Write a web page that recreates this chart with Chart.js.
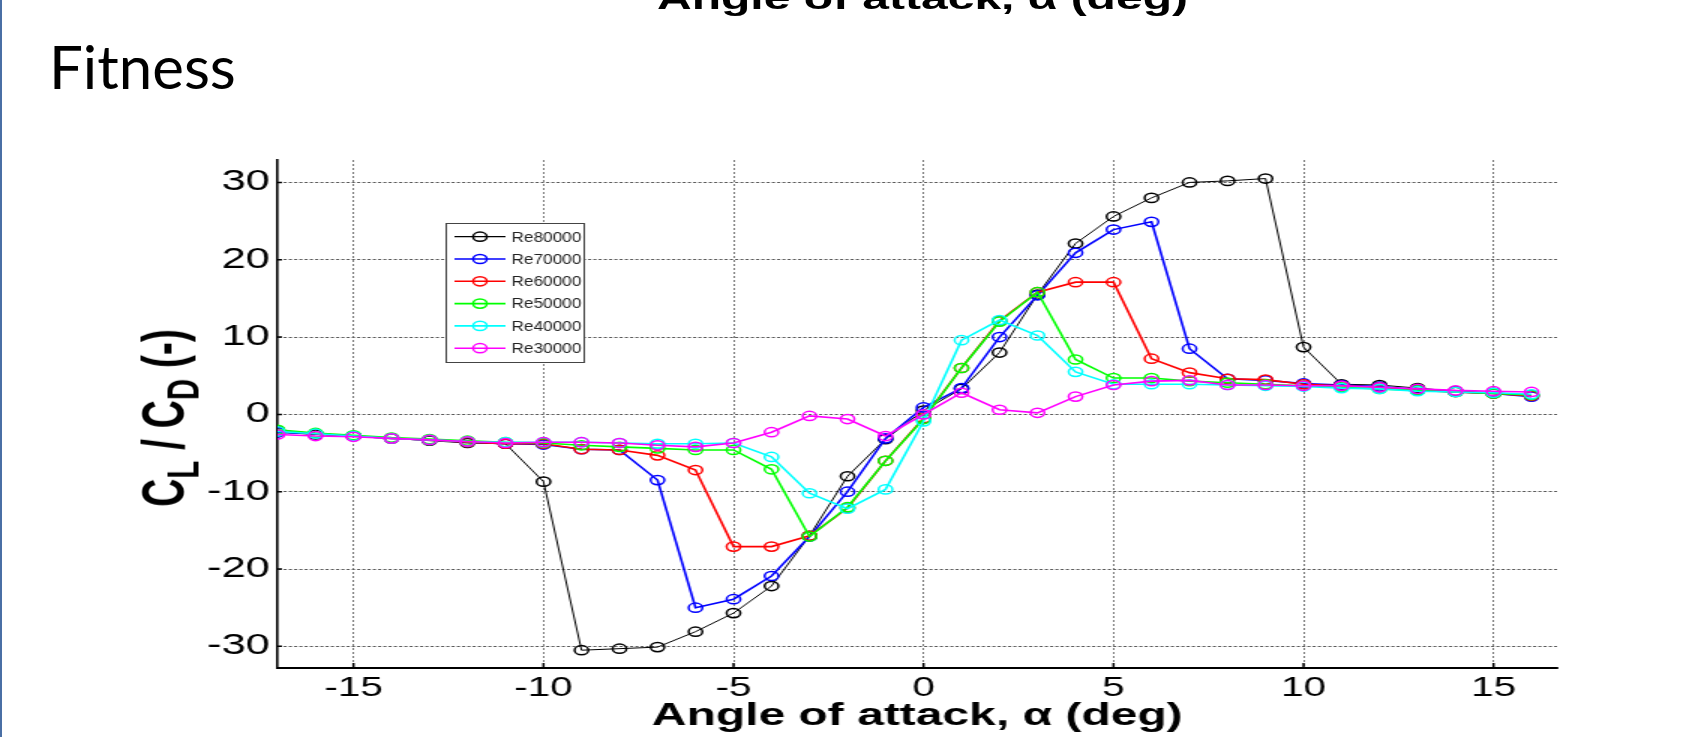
<!DOCTYPE html>
<html>
<head>
<meta charset="utf-8">
<script src="https://cdn.jsdelivr.net/npm/chart.js@4"></script>
<style>
  body { margin: 0; background: #fff; width: 1705px; height: 737px; overflow: hidden; position: relative; }
  #edge { position: absolute; left: 0; top: 0; width: 2px; height: 737px; background: #4a6fa5; }
  #fitness { position: absolute; left: 49px; top: 36px; font: 60px/60px Lato, "Open Sans", sans-serif; color: #000; }
  #wrap { position: absolute; left: 0; top: 0; width: 1137px; height: 737px; transform: scaleX(1.5); transform-origin: 0 0; }
  #prevTitle { position: absolute; left: 615px; top: -18px; transform: translateX(-50%); white-space: nowrap;
               font: bold 32px/32px Arial, "Liberation Sans", sans-serif; color: #000; }
  #ylab { position: absolute; left: 109px; top: 418px; transform: translate(-50%, -50%) rotate(-90deg); white-space: nowrap;
          font: bold 39px Arial, "Liberation Sans", sans-serif; color: #000; }
  #ylab sub { font-size: 0.75em; vertical-align: -0.35em; line-height: 0; }
</style>
</head>
<body>
<div id="edge"></div>
<div id="fitness">Fitness</div>
<div id="wrap">
  <div id="prevTitle">Angle of attack, α (deg)</div>
  <div id="ylab">C<sub>L</sub> / C<sub>D</sub> (-)</div>
  <canvas id="chartCanvas"></canvas>
</div>
<script>
"use strict";

// angle of attack (deg)
const angles = [-17, -16, -15, -14, -13, -12, -11, -10, -9, -8, -7, -6, -5, -4, -3, -2, -1,
                0, 1, 2, 3, 4, 5, 6, 7, 8, 9, 10, 11, 12, 13, 14, 15, 16];

// CL/CD per Reynolds number
const re80000 = [-2.3, -2.6, -2.8, -3.1, -3.4, -3.7, -3.8, -8.7, -30.5, -30.3, -30.1, -28.1, -25.7, -22.2, -15.7, -8.0, -3.2,
                 0.5, 3.3, 8.0, 15.5, 22.1, 25.6, 28.0, 30.0, 30.2, 30.5, 8.7, 3.9, 3.8, 3.4, 3.0, 2.8, 2.5];
const re70000 = [-2.3, -2.5, -2.8, -3.1, -3.3, -3.6, -3.8, -3.9, -4.5, -4.6, -8.5, -25.0, -23.9, -20.9, -15.8, -10.0, -3.1,
                 0.9, 3.4, 10.0, 15.4, 20.9, 23.9, 24.9, 8.5, 4.6, 4.4, 4.0, 3.8, 3.6, 3.2, 2.9, 2.7, 2.3];
const re60000 = [-2.1, -2.5, -2.8, -3.1, -3.3, -3.6, -3.8, -3.8, -4.5, -4.6, -5.3, -7.2, -17.1, -17.1, -15.7, -12.1, -6.0,
                 -0.5, 6.0, 12.1, 15.8, 17.1, 17.1, 7.2, 5.4, 4.6, 4.5, 3.9, 3.7, 3.5, 3.1, 2.9, 2.7, 2.4];
const re50000 = [-2.0, -2.4, -2.7, -3.0, -3.2, -3.4, -3.6, -3.7, -4.0, -4.2, -4.4, -4.6, -4.6, -7.1, -15.8, -12.0, -6.0,
                 -0.6, 6.0, 12.0, 15.8, 7.1, 4.7, 4.7, 4.3, 4.1, 3.9, 3.7, 3.5, 3.3, 3.1, 2.9, 2.7, 2.5];
const re40000 = [-2.2, -2.5, -2.8, -3.1, -3.3, -3.5, -3.6, -3.6, -3.6, -3.7, -3.8, -3.8, -3.7, -5.5, -10.2, -12.2, -9.7,
                 -0.9, 9.6, 12.2, 10.2, 5.5, 3.9, 3.9, 3.9, 3.8, 3.7, 3.6, 3.4, 3.3, 3.0, 2.9, 2.8, 2.6];
const re30000 = [-2.6, -2.8, -2.9, -3.1, -3.3, -3.5, -3.7, -3.6, -3.6, -3.7, -4.0, -4.2, -3.7, -2.3, -0.2, -0.6, -2.8,
                 0.0, 2.8, 0.6, 0.2, 2.3, 3.8, 4.3, 4.4, 3.8, 3.8, 3.7, 3.7, 3.5, 3.3, 3.1, 3.0, 2.9];

const seriesNames = ['Re80000', 'Re70000', 'Re60000', 'Re50000', 'Re40000', 'Re30000'];
const seriesValues = [re80000, re70000, re60000, re50000, re40000, re30000];
const seriesColors = ['#000000', '#0000ff', '#ff0000', '#00ff00', '#00ffff', '#ff00ff'];

const xTicks = [-15, -10, -5, 0, 5, 10, 15];
const yTicks = [-30, -20, -10, 0, 10, 20, 30];

const FONT = 'Arial, "Liberation Sans", sans-serif';

// small inward tick marks, like the matlab axes
const innerTicks = {
    id: 'innerTicks',
    afterDraw(chart) {
        const {ctx, chartArea, scales} = chart;
        ctx.save();
        ctx.strokeStyle = '#000';
        ctx.lineWidth = 1.5;
        ctx.beginPath();
        xTicks.forEach(v => {
            const px = scales.x.getPixelForValue(v);
            ctx.moveTo(px, chartArea.bottom);
            ctx.lineTo(px, chartArea.bottom - 5);
        });
        yTicks.forEach(v => {
            const py = scales.y.getPixelForValue(v);
            ctx.moveTo(chartArea.left, py);
            ctx.lineTo(chartArea.left + 3, py);
        });
        ctx.stroke();
        ctx.restore();
    }
};

// legend box inside the axes
const legendBox = {
    id: 'legendBox',
    afterDraw(chart) {
        const ctx = chart.ctx;
        const left = 297, top = 223, w = 92, h = 139;
        ctx.save();
        ctx.fillStyle = '#fff';
        ctx.fillRect(left, top, w, h);
        ctx.strokeStyle = '#444';
        ctx.lineWidth = 1;
        ctx.strokeRect(left + 0.5, top + 0.5, w, h);
        seriesNames.forEach((name, i) => {
            const y = 236.7 + i * 22.3;
            ctx.strokeStyle = seriesColors[i];
            ctx.lineWidth = i === 0 ? 1.2 : 1.6;
            ctx.beginPath();
            ctx.moveTo(303, y);
            ctx.lineTo(337, y);
            ctx.stroke();
            ctx.lineWidth = 1.5;
            ctx.beginPath();
            ctx.arc(320, y, 4.6, 0, Math.PI * 2);
            ctx.stroke();
            ctx.save();
            ctx.translate(341, y);
            ctx.scale(0.82, 1);
            ctx.fillStyle = '#222';
            ctx.font = '14px ' + FONT;
            ctx.textBaseline = 'middle';
            ctx.fillText(name, 0, 1);
            ctx.restore();
        });
        ctx.restore();
    }
};

const ctx = document.getElementById('chartCanvas');

const datasets = seriesNames.map((name, i) => ({
    label: name,
    data: angles.map((a, j) => ({x: a, y: seriesValues[i][j]})),
    borderColor: seriesColors[i],
    borderWidth: i === 0 ? 1 : 1.6,
    pointStyle: 'circle',
    pointRadius: 4.6,
    pointBorderWidth: 1.5,
    pointBorderColor: seriesColors[i],
    pointBackgroundColor: 'rgba(0,0,0,0)',
    fill: false,
    tension: 0,
    order: seriesNames.length - i
}));

new Chart(ctx, {
    type: 'line',
    data: { datasets: datasets },
    options: {
        responsive: true,
        maintainAspectRatio: false,
        animation: false,
        devicePixelRatio: 1,
        layout: { padding: { left: 0, right: 99, top: 160, bottom: 0 } },
        plugins: {
            legend: { display: false },
            tooltip: { enabled: false }
        },
        scales: {
            x: {
                type: 'linear',
                min: -17,
                max: 16.67,
                afterBuildTicks: s => { s.ticks = xTicks.map(v => ({value: v})); },
                afterFit: s => { s.height = 69; },
                grid: { color: '#444', lineWidth: 0.7, drawTicks: false },
                border: { display: true, color: '#000', width: 2, dash: [2, 2] },
                ticks: { color: '#000', padding: 4, font: { family: FONT, size: 27 } },
                title: {
                    display: true,
                    text: 'Angle of attack, α (deg)',
                    color: '#000',
                    padding: { top: 0, bottom: 2 },
                    font: { family: FONT, size: 32, weight: 'bold' }
                }
            },
            y: {
                type: 'linear',
                min: -32.8,
                max: 32.9,
                afterBuildTicks: s => { s.ticks = yTicks.map(v => ({value: v})); },
                afterFit: s => { s.width = 185; },
                grid: { color: '#555', lineWidth: 1, drawTicks: false },
                border: { display: true, color: '#000', width: 1.6, dash: [2, 1.5] },
                ticks: { color: '#000', padding: 5, font: { family: FONT, size: 29 } }
            }
        }
    },
    plugins: [innerTicks, legendBox]
});
</script>
</body>
</html>
